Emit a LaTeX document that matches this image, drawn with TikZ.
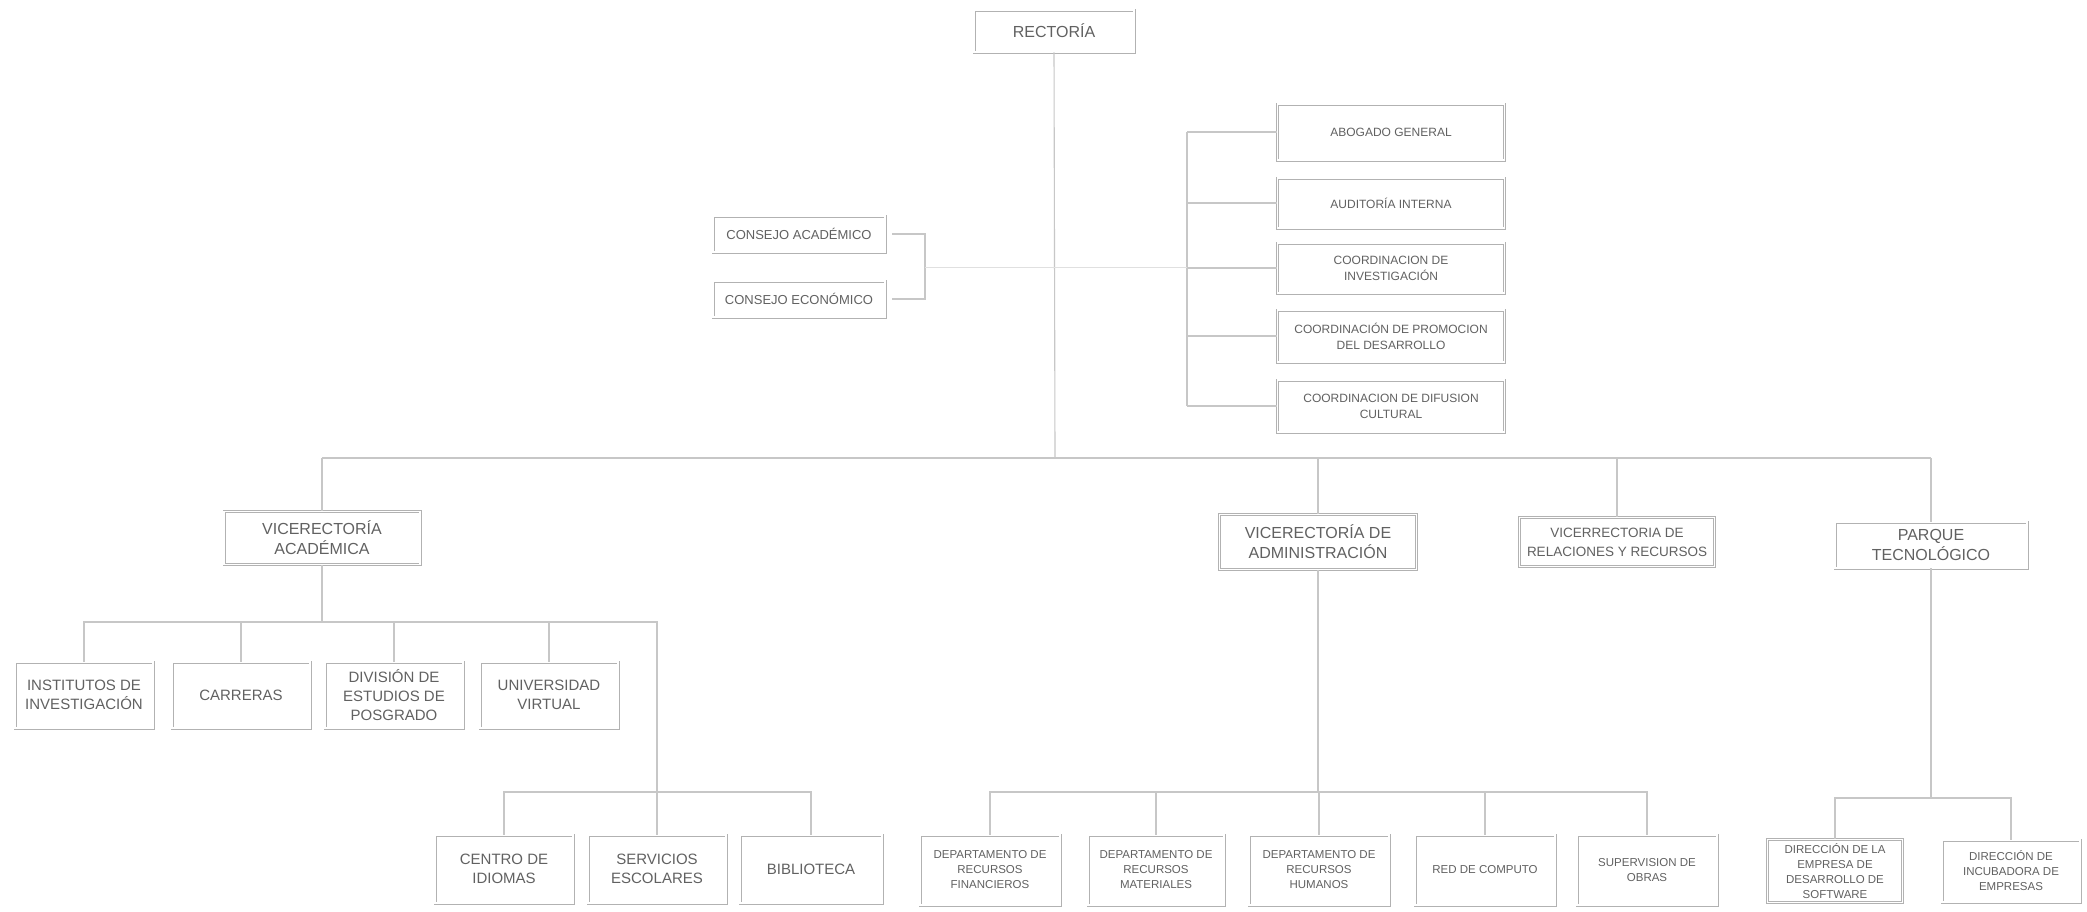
\documentclass[tikz,border=0pt]{standalone}
\usepackage{fontspec}
\setmainfont{Liberation Sans}
\newcommand\fsz[2]{\fontsize{#1}{#2}\selectfont}
\begin{document}
\begin{tikzpicture}[x=1pt,y=-1pt,
  box/.style={draw=black!30, double=white, double distance=1.6pt, line width=0.7pt,
    align=center, inner sep=0pt, text=black!62},
  link/.style={draw=black!22, line width=1.1pt},
  faint/.style={draw=black!12, line width=1pt},
  big/.style={font=\fsz{16}{20}},
  mid/.style={font=\fsz{15}{19}},
  sml/.style={font=\fsz{12}{16}},
  tiny/.style={font=\fsz{11.5}{15}}]
\fill[white] (0,0) rectangle (2087,911);
\useasboundingbox (0,0) rectangle (2087,911);

% top
\node[box,big,minimum width=160pt,minimum height=42pt] (rect) at (1054,31) {RECTORÍA};

% consejos
\node[box,font=\fsz{13}{16},minimum width=172pt,minimum height=36pt] (ca) at (799,234) {CONSEJO ACADÉMICO};
\node[box,font=\fsz{13}{16},minimum width=172pt,minimum height=36pt] (ce) at (799,299) {CONSEJO ECONÓMICO};

% staff
\node[box,sml,minimum width=227pt,minimum height=56pt] (abog) at (1391,132) {ABOGADO GENERAL};
\node[box,sml,minimum width=227pt,minimum height=50pt] (audit) at (1391,203) {AUDITORÍA INTERNA};
\node[box,sml,minimum width=227pt,minimum height=50pt] (coinv) at (1391,268) {COORDINACION DE\\INVESTIGACIÓN};
\node[box,sml,minimum width=227pt,minimum height=52pt] (coprom) at (1391,336) {COORDINACIÓN DE PROMOCION\\DEL DESARROLLO};
\node[box,sml,minimum width=227pt,minimum height=52pt] (codif) at (1391,406) {COORDINACION DE DIFUSION\\CULTURAL};

% vice
\node[box,big,minimum width=196pt,minimum height=53pt] (va) at (322,538) {VICERECTORÍA\\ACADÉMICA};
\node[box,big,minimum width=197pt,minimum height=55pt] (vadm) at (1318,542) {VICERECTORÍA DE\\ADMINISTRACIÓN};
\node[box,font=\fsz{13.5}{19},minimum width=195pt,minimum height=49pt] (vrel) at (1617,542) {VICERRECTORIA DE\\RELACIONES Y RECURSOS};
\node[box,big,minimum width=192pt,minimum height=46pt] (park) at (1931,545) {PARQUE\\TECNOLÓGICO};

% academic children
\node[box,mid,minimum width=138pt,minimum height=66pt] (inst) at (84,695) {INSTITUTOS DE\\INVESTIGACIÓN};
\node[box,mid,minimum width=138pt,minimum height=66pt] (carr) at (241,695) {CARRERAS};
\node[box,mid,minimum width=138pt,minimum height=66pt] (div) at (394,695) {DIVISIÓN DE\\ESTUDIOS DE\\POSGRADO};
\node[box,mid,minimum width=138pt,minimum height=66pt] (univ) at (549,695) {UNIVERSIDAD\\VIRTUAL};

\node[box,mid,minimum width=138pt,minimum height=68pt] (cen) at (504,869) {CENTRO DE\\IDIOMAS};
\node[box,mid,minimum width=138pt,minimum height=68pt] (serv) at (657,869) {SERVICIOS\\ESCOLARES};
\node[box,mid,minimum width=142pt,minimum height=68pt] (bib) at (811,869) {BIBLIOTECA};

% admin children
\node[box,tiny,minimum width=140pt,minimum height=70pt] (dfin) at (990,870) {DEPARTAMENTO DE\\RECURSOS\\FINANCIEROS};
\node[box,tiny,minimum width=136pt,minimum height=70pt] (dmat) at (1156,870) {DEPARTAMENTO DE\\RECURSOS\\MATERIALES};
\node[box,tiny,minimum width=140pt,minimum height=70pt] (dhum) at (1319,870) {DEPARTAMENTO DE\\RECURSOS\\HUMANOS};
\node[box,tiny,minimum width=140pt,minimum height=70pt] (red) at (1485,870) {RED DE COMPUTO};
\node[box,tiny,minimum width=140pt,minimum height=70pt] (sup) at (1647,870) {SUPERVISION DE\\OBRAS};

% parque children
\node[box,tiny,minimum width=135pt,minimum height=63pt] (dsoft) at (1835,871) {DIRECCIÓN DE LA\\EMPRESA DE\\DESARROLLO DE\\SOFTWARE};
\node[box,tiny,minimum width=138pt,minimum height=62pt] (dinc) at (2011,871) {DIRECCIÓN DE\\INCUBADORA DE\\EMPRESAS};

% helper coordinates
\coordinate (hub) at (1055,458);
\coordinate (arow) at (0,622);
\coordinate (brow) at (0,792);
\coordinate (prow) at (0,798);
\coordinate (sb) at (1187,0);
\coordinate (cb) at (925,0);
\coordinate (cm) at (925,267);

% main trunk
\draw[link] (rect.south) -- (hub);
\draw[link] (va.north |- hub) -- (park.north |- hub);
\foreach \n in {va,vadm,vrel,park} \draw[link] (\n.north |- hub) -- (\n.north);

% staff bracket
\draw[link] (sb |- abog.west) -- (sb |- codif.west);
\foreach \n in {abog,audit,coinv,coprom,codif} \draw[link] (sb |- \n.west) -- (\n.west);

% consejos bracket
\draw[link] ([xshift=7pt]ca.east) -| (cb |- ce.east) -- ([xshift=7pt]ce.east);
\draw[faint] (cm) -- (sb |- cm);

% academic
\draw[link] (va.south) -- (va.south |- arow);
\draw[link] (inst.north) |- (serv.north |- arow) -- (serv.north);
\foreach \n in {carr,div,univ} \draw[link] (\n.north |- arow) -- (\n.north);
\draw[link] (cen.north) |- (bib.north |- brow) -- (bib.north);

% admin
\draw[link] (vadm.south) -- (vadm.south |- brow);
\draw[link] (dfin.north) |- (sup.north |- brow) -- (sup.north);
\foreach \n in {dmat,dhum,red} \draw[link] (\n.north |- brow) -- (\n.north);

% parque
\draw[link] (park.south) -- (park.south |- prow);
\draw[link] (dsoft.north) |- (dinc.north |- prow) -- (dinc.north);
\end{tikzpicture}
\end{document}
